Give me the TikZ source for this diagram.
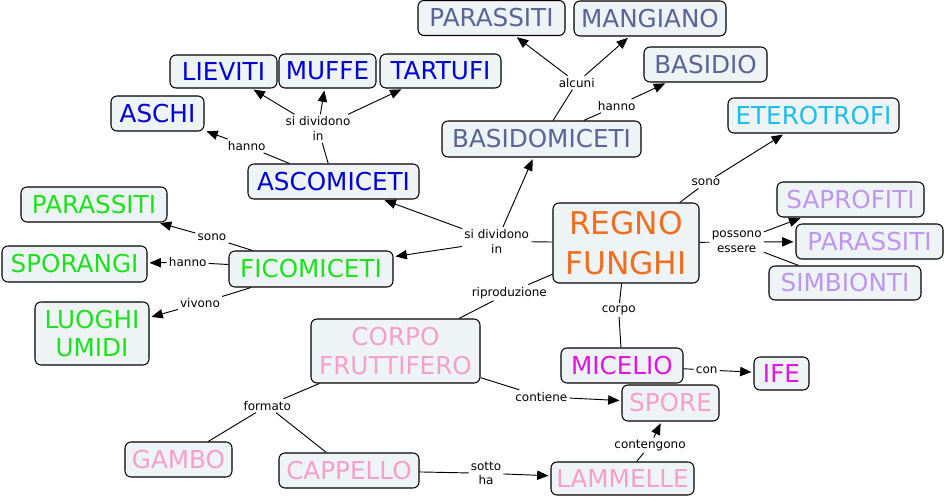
\documentclass[tikz,border=0pt]{standalone}
\usepackage{fontspec}
\setmainfont{DejaVu Sans}
\usetikzlibrary{arrows.meta}
\definecolor{gb}{RGB}{90,100,150}
\definecolor{bl}{RGB}{0,0,210}
\definecolor{cy}{RGB}{30,190,235}
\definecolor{gr}{RGB}{30,225,30}
\definecolor{lav}{RGB}{190,150,240}
\definecolor{org}{RGB}{240,110,30}
\definecolor{mag}{RGB}{225,20,225}
\definecolor{pk}{RGB}{245,160,200}
\definecolor{nodefill}{RGB}{238,243,246}
\tikzset{
 concept/.style 2 args={draw=black, line width=0.8pt, rounded corners=4.5pt, fill=nodefill,
   minimum width=#1*0.75pt, minimum height=#2*0.75pt, inner sep=0pt,
   font=\fontsize{18.5pt}{21.5pt}\selectfont, align=center},
 lbl/.style={inner sep=1.5pt, font=\fontsize{9pt}{11pt}\selectfont, align=center},
 conn/.style={line width=0.7pt},
 arr/.style={line width=0.7pt, -{Triangle[length=8.5pt,width=7pt]}, shorten >=1.5pt},
}
\begin{document}
\begin{tikzpicture}[x=0.75pt,y=-0.75pt]
\useasboundingbox (0,0) rectangle (946,498);
% concepts
\node[concept={147}{35}, text=gb] (par1) at (491.5,18) {PARASSITI};
\node[concept={152}{35}, text=gb] (mang) at (650,18.5) {MANGIANO};
\node[concept={123}{35}, text=gb] (basidio) at (705.5,64.5) {BASIDIO};
\node[concept={107}{33}, text=bl] (liev) at (223.5,71.5) {LIEVITI};
\node[concept={97}{34}, text=bl] (muffe) at (327.5,71) {MUFFE};
\node[concept={121}{34}, text=bl] (tart) at (440.5,71) {TARTUFI};
\node[concept={93}{35}, text=bl] (aschi) at (157.5,113.5) {ASCHI};
\node[concept={199}{36}, text=gb] (basm) at (541.5,139) {BASIDOMICETI};
\node[concept={171}{35}, text=cy] (etero) at (813.5,115.5) {ETEROTROFI};
\node[concept={171}{35}, text=bl] (asco) at (333.5,181.5) {ASCOMICETI};
\node[concept={146}{35}, text=gr] (par2) at (94,204.5) {PARASSITI};
\node[concept={147}{35}, text=lav] (sapro) at (850.5,199.5) {SAPROFITI};
\node[concept={146}{80}, text=org, font=\fontsize{23.5pt}{30pt}\selectfont] (regno) at (626,243) {REGNO\\FUNGHI};
\node[concept={147}{35}, text=lav] (par3) at (869.5,241.5) {PARASSITI};
\node[concept={152}{34}, text=lav] (simb) at (845,283) {SIMBIONTI};
\node[concept={145}{36}, text=gr] (spor) at (74.5,264) {SPORANGI};
\node[concept={164}{36}, text=gr] (fico) at (311,269) {FICOMICETI};
\node[concept={114}{63}, text=gr] (luoghi) at (92,333.5) {LUOGHI\\UMIDI};
\node[concept={169}{64}, text=pk] (corpo) at (395.5,351) {CORPO\\FRUTTIFERO};
\node[concept={107}{35}, text=pk] (gambo) at (178.5,459.5) {GAMBO};
\node[concept={140}{35}, text=pk] (capp) at (349,470.5) {CAPPELLO};
\node[concept={122}{35}, text=mag] (mic) at (622,365.5) {MICELIO};
\node[concept={55}{33}, text=mag] (ife) at (781.5,373.5) {IFE};
\node[concept={97}{36}, text=pk] (spore) at (670.5,403) {SPORE};
\node[concept={143}{33}, text=pk] (lamm) at (622.5,478.5) {LAMMELLE};
% link labels
\node[lbl] (lalc) at (576.7,82.7) {alcuni};
\node[lbl] (lhanb) at (616.7,106) {hanno};
\node[lbl] (lsda) at (318,128.5) {si dividono\\in};
\node[lbl] (lhana) at (246.7,146) {hanno};
\node[lbl] (lsonoe) at (706,182.7) {sono};
\node[lbl] (lsdr) at (496.7,241.3) {si dividono\\in};
\node[lbl] (lposs) at (736.7,242) {possono\\essere};
\node[lbl] (lsonog) at (212,237.7) {sono};
\node[lbl] (lhans) at (187.7,262.3) {hanno};
\node[lbl] (lviv) at (200,303.3) {vivono};
\node[lbl] (lrip) at (509.3,292.7) {riproduzione};
\node[lbl] (lcorpo) at (618.7,310) {corpo};
\node[lbl] (lcon) at (706.7,370) {con};
\node[lbl] (lcont) at (541.3,396.7) {contiene};
\node[lbl] (lform) at (267.3,405.7) {formato};
\node[lbl] (lconte) at (650,445.3) {contengono};
\node[lbl] (lsotto) at (486,473.3) {sotto\\ha};
% connectors
\draw[conn] (basm) -- (lalc);
\draw[arr] (lalc) -- (par1);
\draw[arr] (lalc) -- (mang);
\draw[conn] (basm) -- (lhanb);
\draw[arr] (lhanb) -- (basidio);
\draw[conn] (asco) -- (lsda);
\draw[arr] (lsda) -- (liev);
\draw[arr] (lsda) -- (muffe);
\draw[arr] (lsda) -- (tart);
\draw[conn] (asco) -- (lhana);
\draw[arr] (lhana) -- (aschi);
\draw[conn] (regno) -- (lsdr);
\draw[arr] (lsdr) -- (asco);
\draw[arr] (lsdr) -- (fico);
\draw[arr] (lsdr) -- (basm);
\draw[conn] (regno) -- (lsonoe);
\draw[arr] (lsonoe) -- (etero);
\draw[conn] (regno) -- (lposs);
\draw[arr] (lposs) -- (sapro);
\draw[arr] (lposs) -- (par3);
\draw[conn] (lposs) -- (simb);
\draw[conn] (fico) -- (lsonog);
\draw[arr] (lsonog) -- (par2);
\draw[conn] (fico) -- (lhans);
\draw[arr] (lhans) -- (spor);
\draw[conn] (fico) -- (lviv);
\draw[arr] (lviv) -- (luoghi);
\draw[conn] (regno) -- (lrip);
\draw[conn] (lrip) -- (corpo);
\draw[conn] (regno) -- (lcorpo);
\draw[conn] (lcorpo) -- (mic);
\draw[conn] (mic) -- (lcon);
\draw[arr] (lcon) -- (ife);
\draw[conn] (corpo) -- (lcont);
\draw[arr] (lcont) -- (spore);
\draw[conn] (corpo) -- (lform);
\draw[conn] (lform) -- (gambo);
\draw[conn] (lform) -- (capp);
\draw[conn] (lamm) -- (lconte);
\draw[arr] (lconte) -- (spore);
\draw[conn] (capp) -- (lsotto);
\draw[arr] (lsotto) -- (lamm);
\end{tikzpicture}
\end{document}
